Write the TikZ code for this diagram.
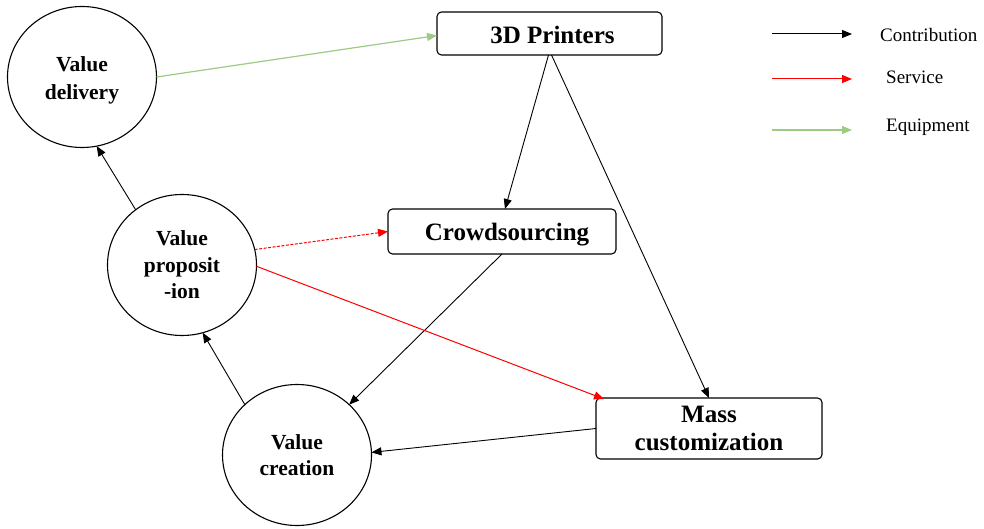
\documentclass[tikz,border=0pt]{standalone}
\usepackage{fontspec}
\setmainfont{Liberation Serif}
\usetikzlibrary{arrows.meta,shapes.geometric}

\definecolor{equipgreen}{HTML}{9DCB84}
\definecolor{servred}{RGB}{255,0,0}

% lowers a text line without changing the box it takes
\newcommand{\lowerby}[2]{\raisebox{-#1}[\height][\depth]{#2}}

\tikzset{
  valuecircle/.style={ellipse, draw=black, line width=1.1pt, inner sep=0pt, outer sep=0pt,
    minimum width=149pt, minimum height=141pt, align=center,
    font=\fontsize{21.5}{26.5}\selectfont\bfseries},
  actorbox/.style={rectangle, draw=black, line width=1.1pt, rounded corners=4.5pt,
    inner sep=0pt, outer sep=0pt, align=center,
    font=\fontsize{25}{28}\selectfont\bfseries},
  tip/.style={-{Triangle[length=10pt,width=8pt]}},
  contrib/.style={tip, draw=black, line width=0.9pt},
  service/.style={tip, draw=servred, line width=1pt},
  servicedash/.style={service, dash pattern=on 3pt off 1.5pt},
  equip/.style={tip, draw=equipgreen, line width=1.2pt},
  legendtext/.style={anchor=west, inner sep=0pt, font=\fontsize{19}{22}\selectfont}
}

\begin{document}
\begin{tikzpicture}[x=1pt,y=-1pt]
\useasboundingbox (0,0) rectangle (984,529);

% value circles
\node[valuecircle] (dl) at (82,77)  {\lowerby{3pt}{Value}\\\lowerby{4pt}{delivery}};
\node[valuecircle] (pp) at (182,265) {Value\\proposit\\-ion};
\node[valuecircle] (cr) at (297,455) {Value\\creation};

% actor boxes
\node[actorbox, minimum width=225pt, minimum height=43pt] (pr) at (549.5,33.5) {\hspace{6pt}\lowerby{1pt}{3D Printers}};
\node[actorbox, minimum width=228pt, minimum height=45pt] (cs) at (502,231.5) {\hspace{10pt}\lowerby{3pt}{Crowdsourcing}};
\node[actorbox, minimum width=226pt, minimum height=61pt] (mc) at (709,428.5) {Mass\\customization};

% contribution flows
\draw[contrib] (pp.130.5) -- (dl.-78);
\draw[contrib] (cr.136) -- (pp.-73.7);
\draw[contrib] ([xshift=-1pt]pr.south) -- ([xshift=3pt]cs.north);
\draw[contrib] ([xshift=2pt]pr.south) -- (mc.north);
\draw[contrib] (cs.south) -- (cr.44.4);
\draw[contrib] (mc.west) -- (cr.2);

% service flows
\draw[servicedash] (pp.12.2) -- (cs.west);
\draw[service] (pp.-1.5) -- ([xshift=8pt,yshift=-1pt]mc.north west);

% equipment flow
\draw[equip] (dl.east) -- ([yshift=-2pt]pr.west);

% legend
\coordinate (la1) at (772,34);  \coordinate (lb1) at (852,34);
\coordinate (la2) at (772,79);  \coordinate (lb2) at (852,79);
\coordinate (la3) at (772,130); \coordinate (lb3) at (852,130);
\draw[contrib, line width=1pt] (la1) -- (lb1);
\draw[service] (la2) -- (lb2);
\draw[equip] (la3) -- (lb3);
\node[legendtext] (t1) at (880,35)  {Contribution};
\node[legendtext] (t2) at (886,77)  {Service};
\node[legendtext] (t3) at (886,127) {Equipment};
\end{tikzpicture}
\end{document}
